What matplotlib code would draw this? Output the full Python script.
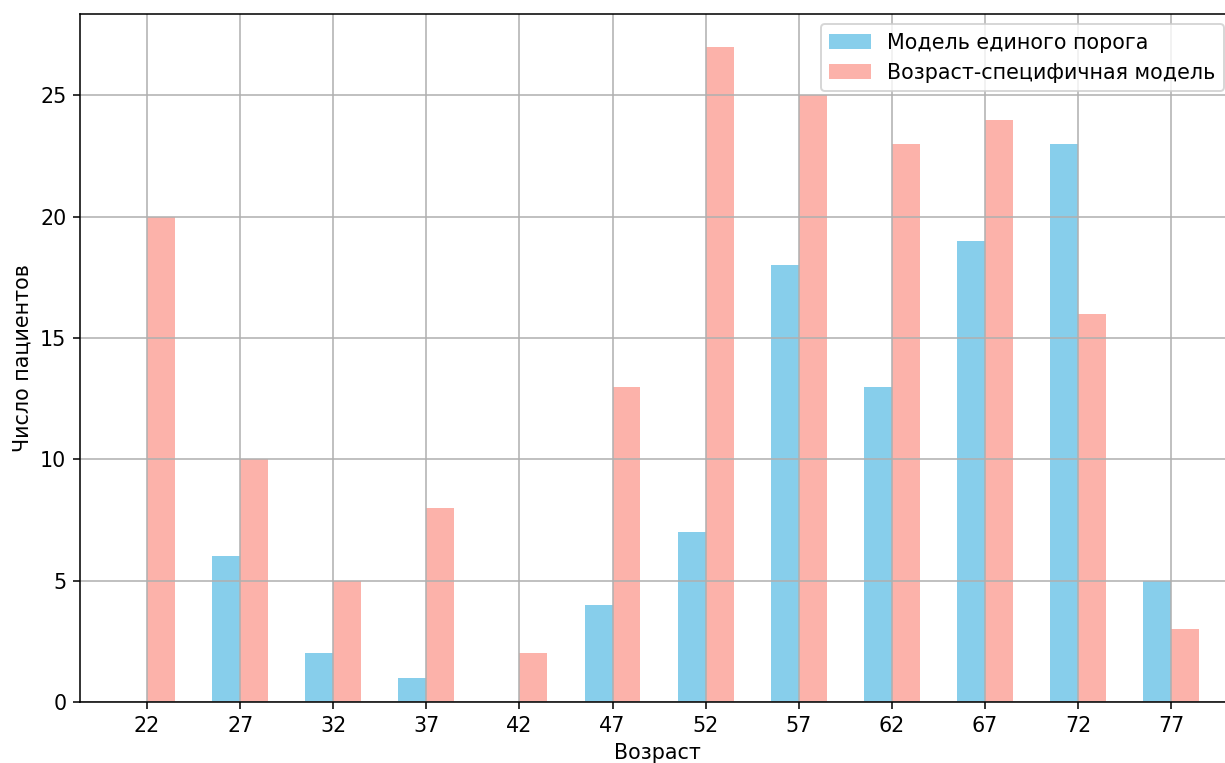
import numpy as np
import matplotlib
matplotlib.use("Agg")
import matplotlib.pyplot as plt

ages = [22, 27, 32, 37, 42, 47, 52, 57, 62, 67, 72, 77]
single_threshold = [0, 6, 2, 1, 0, 4, 7, 18, 13, 19, 23, 5]
age_specific = [20, 10, 5, 8, 2, 13, 27, 25, 23, 24, 16, 3]

plt.rcParams["font.size"] = 10.6

W, H, DPI = 1225, 763, 140
fig = plt.figure(figsize=(W / DPI, H / DPI), dpi=DPI)
# axes box in pixels: left 80, right ~1234 (cropped), top 14, bottom 702
ax = fig.add_axes([80 / W, (H - 702) / H, (1234 - 80) / W, (702 - 14) / H])

x = np.array(ages)
width = 1.5
ax.bar(x - width / 2, single_threshold, width, color="skyblue", label="Модель единого порога")
ax.bar(x + width / 2, age_specific, width, color="salmon", alpha=0.6, label="Возраст-специфичная модель")

ax.set_xticks(ages)
ax.set_xlim(18.4, 18.4 + (1234 - 80) / 18.62)
ax.set_ylim(0, 28.35)
ax.set_xlabel("Возраст")
ax.set_ylabel("Число пациентов")
ax.grid(True)
ax.legend(loc="upper right")

fig.savefig("out.png", dpi=DPI)
